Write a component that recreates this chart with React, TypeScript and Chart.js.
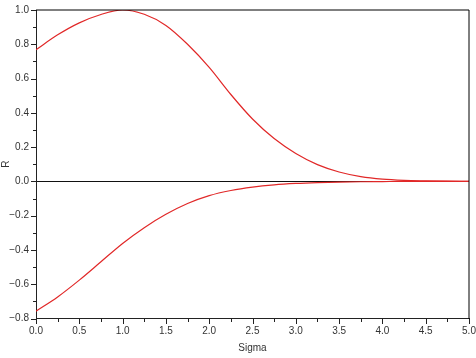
import React, { useEffect, useRef } from "react";
import { Chart, registerables } from "chart.js";

Chart.register(...registerables);

const sigma = [0, 0.25, 0.5, 0.75, 1.0, 1.25, 1.5, 1.75, 2.0, 2.25, 2.5, 2.75, 3.0, 3.25, 3.5, 3.75, 4.0, 4.25, 4.5, 4.75, 5.0];
const upperR = [0.768, 0.855, 0.925, 0.974, 1.0, 0.975, 0.91, 0.8, 0.665, 0.507, 0.364, 0.25, 0.163, 0.098, 0.055, 0.028, 0.013, 0.006, 0.003, 0.001, 0.0];
const lowerR = [-0.757, -0.674, -0.576, -0.469, -0.362, -0.27, -0.192, -0.129, -0.083, -0.053, -0.033, -0.02, -0.012, -0.007, -0.004, -0.002, -0.001, 0, 0, 0, 0];

const xTitle = "Sigma";
const yTitle = "R";

const FONT = "'Liberation Sans', Arial, sans-serif";

const fmt = (v: number) => {
  const s = Math.abs(v).toFixed(1);
  return v < -1e-9 ? "\u2212" + s : s;
};

const frameAndTicks = {
  id: "frameAndTicks",
  afterDraw(chart: any) {
    const { ctx, chartArea } = chart;
    const xs = chart.scales.x;
    const ys = chart.scales.y;
    ctx.save();
    ctx.strokeStyle = "#000";
    ctx.lineWidth = 1;
    ctx.beginPath();
    ctx.moveTo(Math.round(chartArea.left), Math.round(chartArea.top));
    ctx.lineTo(Math.round(chartArea.right), Math.round(chartArea.top));
    ctx.lineTo(Math.round(chartArea.right), Math.round(chartArea.bottom));
    ctx.stroke();
    ctx.strokeStyle = "#222";
    ctx.beginPath();
    xs.ticks.forEach((t: any) => {
      const major = Math.round(t.value * 4) % 2 === 0;
      const px = Math.round(xs.getPixelForValue(t.value)) + 0.5;
      const b = Math.round(chartArea.bottom);
      ctx.moveTo(px, b);
      ctx.lineTo(px, b + (major ? 5 : 3));
    });
    ys.ticks.forEach((t: any) => {
      const major = Math.abs(Math.round(t.value * 10)) % 2 === 0;
      const py = Math.round(ys.getPixelForValue(t.value)) + 0.5;
      const l = Math.round(chartArea.left);
      ctx.moveTo(l, py);
      ctx.lineTo(l - (major ? 5 : 3), py);
    });
    ctx.stroke();
    ctx.restore();
  },
};

export default function App() {
  const ref = useRef<HTMLCanvasElement | null>(null);
  useEffect(() => {
    if (!ref.current) return;
    const chart = new Chart(ref.current, {
      type: "line",
      data: {
        datasets: [
          {
            data: sigma.map((x, i) => ({ x, y: upperR[i] })),
            borderColor: "rgb(225,40,40)",
            borderWidth: 1.2,
            pointRadius: 0,
            cubicInterpolationMode: "monotone",
            fill: false,
          },
          {
            data: sigma.map((x, i) => ({ x, y: lowerR[i] })),
            borderColor: "rgb(225,40,40)",
            borderWidth: 1.2,
            pointRadius: 0,
            cubicInterpolationMode: "monotone",
            fill: false,
          },
        ],
      },
      options: {
        animation: false,
        responsive: true,
        maintainAspectRatio: false,
        layout: { padding: { left: 0, right: 7, top: 10, bottom: 0 } },
        plugins: { legend: { display: false }, tooltip: { enabled: false } },
        scales: {
          x: {
            type: "linear",
            min: 0,
            max: 5,
            ticks: {
              stepSize: 0.25,
              autoSkip: false,
              maxRotation: 0,
              padding: 7,
              color: "#333",
              font: { family: FONT, size: 10 },
              callback: (v: any) => (Math.round(Number(v) * 4) % 2 === 0 ? fmt(Number(v)) : ""),
            },
            grid: { display: true, drawOnChartArea: false, drawTicks: false, color: "transparent" },
            border: { display: true, color: "#222", width: 1 },
            title: {
              display: true,
              text: xTitle,
              color: "#333",
              font: { family: FONT, size: 10 },
              padding: { top: 0, bottom: 4 },
            },
            afterFit: (s: any) => {
              s.height = 39.5;
              s.paddingLeft = 0;
              s.paddingRight = 0;
            },
          },
          y: {
            type: "linear",
            min: -0.8,
            max: 1.0,
            ticks: {
              stepSize: 0.1,
              autoSkip: false,
              padding: 7,
              color: "#333",
              font: { family: FONT, size: 10 },
              callback: (v: any) => (Math.abs(Math.round(Number(v) * 10)) % 2 === 0 ? fmt(Number(v)) : ""),
            },
            grid: {
              drawOnChartArea: true,
              drawTicks: false,
              color: (c: any) => (c.tick && Math.abs(c.tick.value) < 1e-9 ? "#111" : "transparent"),
              lineWidth: 1,
            },
            border: { display: true, color: "#222", width: 1 },
            title: {
              display: true,
              text: yTitle,
              color: "#333",
              font: { family: FONT, size: 10 },
              padding: { top: 0, bottom: 0 },
            },
            afterFit: (s: any) => {
              s.width = 36;
              s.paddingTop = 0;
              s.paddingBottom = 0;
            },
          },
        },
      },
      plugins: [frameAndTicks],
    });
    return () => chart.destroy();
  }, []);
  return (
    <div style={{ position: "fixed", left: 0, top: 0, width: 476, height: 358, background: "#fff" }}>
      <canvas ref={ref} />
    </div>
  );
}
